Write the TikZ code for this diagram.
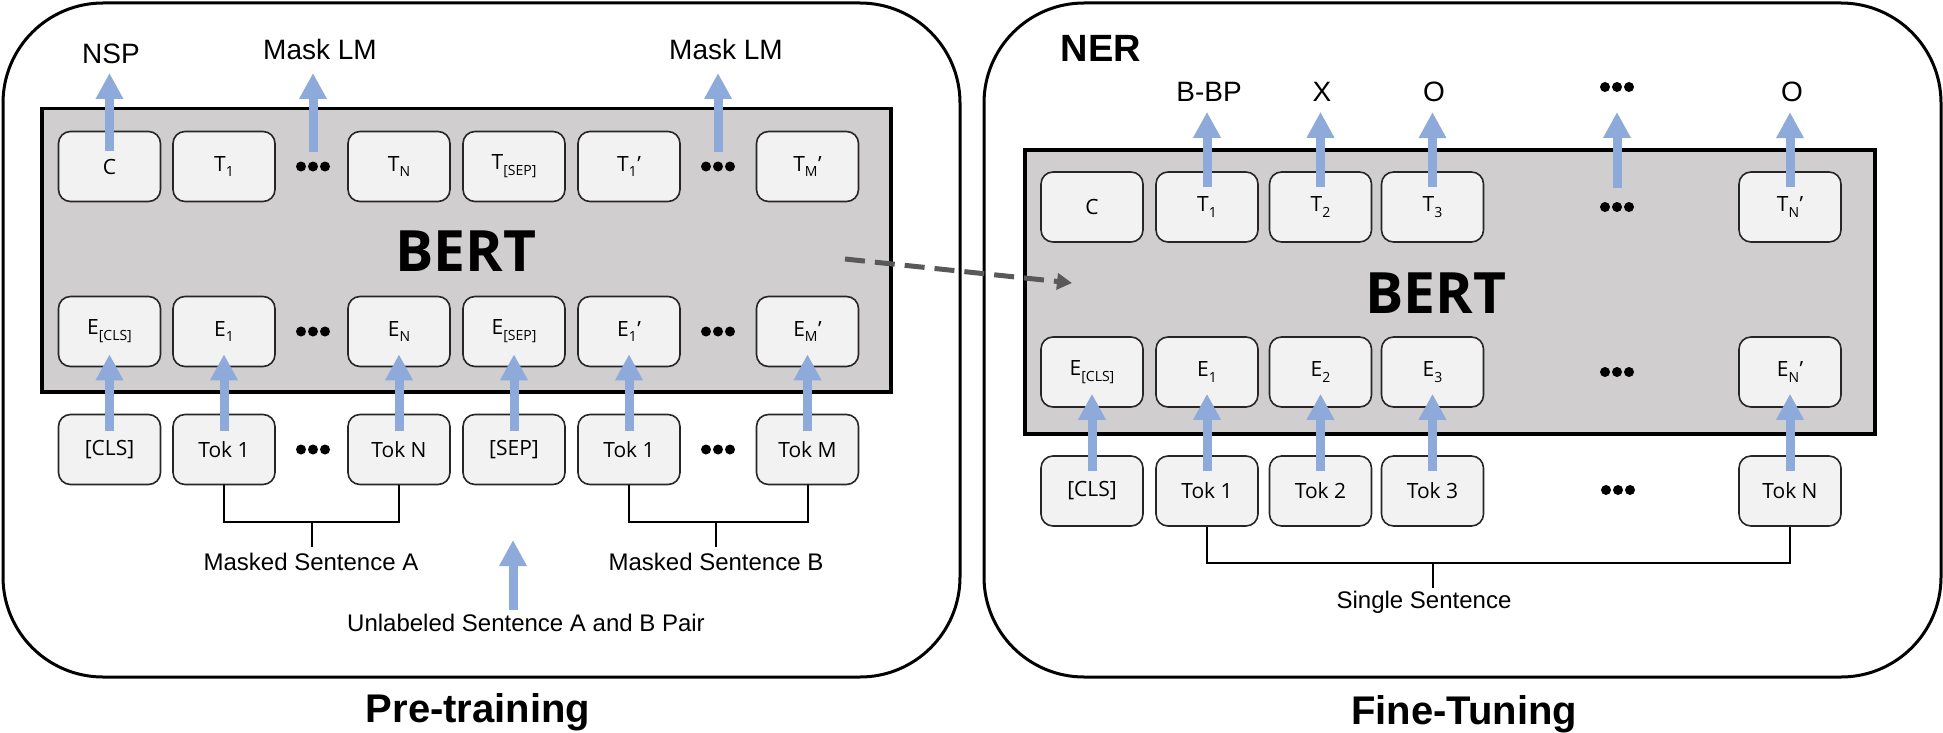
\documentclass[tikz,border=0pt]{standalone}
\usepackage{fontspec}
\setmainfont{Liberation Sans}
\newfontfamily\boxfont{Open Sans}
\usetikzlibrary{arrows.meta,calc}
\definecolor{arrowblue}{RGB}{142,170,219}
\definecolor{boxfill}{RGB}{242,242,242}
\definecolor{bertgray}{RGB}{208,206,206}
\definecolor{dashgray}{RGB}{89,89,89}
\newcommand\sbs[1]{\raisebox{-0.28em}{\fontsize{14}{14}\selectfont #1}}
\newcommand\pr{\kern0.5pt’}
\begin{document}
\begin{tikzpicture}[x=1pt,y=-1pt,
  tokbox/.style={draw=black!85, line width=1.6pt, fill=boxfill, rounded corners=12pt,
    minimum width=102pt, minimum height=70pt, inner sep=0pt,
    font=\boxfont\fontsize{21}{24}\selectfont},
  panel/.style={draw=black, line width=3pt, rounded corners=100pt},
  bertbox/.style={draw=black, line width=3.5pt, fill=bertgray, inner sep=0pt},
  up/.style={draw=arrowblue, line width=9pt, -{Triangle[width=26pt,length=26pt]}},
  lbl/.style={font=\fontsize{28}{32}\selectfont, inner sep=0pt},
  sublbl/.style={font=\fontsize{24}{28}\selectfont, inner sep=0pt},
  ttl/.style={font=\bfseries\fontsize{40}{44}\selectfont, inner sep=0pt},
  bert/.style={font=\boxfont\bfseries\fontsize{57}{60}\selectfont, inner sep=0pt},
  brk/.style={draw=black, line width=2pt},
  dasharrow/.style={draw=dashgray, line width=5pt, dash pattern=on 20pt off 10pt,
    -{Triangle[width=16pt,length=15pt]}},
  dotdot/.pic={\fill (-12,0) circle (5pt) (0,0) circle (5pt) (12,0) circle (5pt);}
]
\useasboundingbox (0,0) rectangle (1943,733);

% panels
\draw[panel] (3,3) rectangle (960,677);
\draw[panel] (984,3) rectangle (1941,677);

% BERT boxes
\node[bertbox, minimum width=849pt, minimum height=283pt, anchor=north west] (bertL) at (40,107) {};
\node[bertbox, minimum width=850pt, minimum height=284pt, anchor=north west] (bertR) at (1023,148) {};
\node[bert] (bertLt) at (466,251) {BERT};
\node[bert] (bertRt) at (1436,293) {BERT};

% ---------- left panel boxes ----------
\node[tokbox] (lt0) at (109.5,166.5) {C};
\node[tokbox] (lt1) at (224,166.5) {T\sbs{1}};
\node[tokbox] (ltN) at (399,166.5) {T\sbs{N}};
\node[tokbox] (ltS) at (514,166.5) {T\sbs{[SEP]}};
\node[tokbox] (ltB1) at (629,166.5) {T\sbs{1}\pr};
\node[tokbox] (ltM) at (807.5,166.5) {T\sbs{M}\pr};

\node[tokbox] (le0) at (109.5,331.5) {E\sbs{[CLS]}};
\node[tokbox] (le1) at (224,331.5) {E\sbs{1}};
\node[tokbox] (leN) at (399,331.5) {E\sbs{N}};
\node[tokbox] (leS) at (514,331.5) {E\sbs{[SEP]}};
\node[tokbox] (leB1) at (629,331.5) {E\sbs{1}\pr};
\node[tokbox] (leM) at (807.5,331.5) {E\sbs{M}\pr};

\node[tokbox] (lk0) at (109.5,449.5) {[CLS]};
\node[tokbox] (lk1) at (224,449.5) {Tok 1};
\node[tokbox] (lkN) at (399,449.5) {Tok N};
\node[tokbox] (lkS) at (514,449.5) {[SEP]};
\node[tokbox] (lkB1) at (629,449.5) {Tok 1};
\node[tokbox] (lkM) at (807.5,449.5) {Tok M};

\pic at (313,166.5) {dotdot};
\pic at (313,331.5) {dotdot};
\pic at (313,449.5) {dotdot};
\pic at (718,166.5) {dotdot};
\pic at (718,331.5) {dotdot};
\pic at (718,449.5) {dotdot};

% left labels
\node[lbl] (nsp) at (111,54) {NSP};
\node[lbl] (mlm1) at (320,49) {Mask LM};
\node[lbl] (mlm2) at (726,49) {Mask LM};
\coordinate (mlm1s) at (313,152);
\coordinate (mlm2s) at (718,152);
\coordinate (mlm1t) at (313,73);
\coordinate (mlm2t) at (718,73);
\coordinate (nspt) at (109.5,73);

\draw[up] ([yshift=-20pt]lt0.north) -- (nspt);
\draw[up] (mlm1s) -- (mlm1t);
\draw[up] (mlm2s) -- (mlm2t);

\foreach \a/\b in {lk0/le0,lk1/le1,lkN/leN,lkS/leS,lkB1/leB1,lkM/leM}
  \draw[up] ([yshift=-17pt]\a.north) -- ([yshift=13pt]\b.south);

% brackets left
\draw[brk] (lk1.south) -- ++(0,37) -| (lkN.south);
\draw[brk] (lkB1.south) -- ++(0,37) -| (lkM.south);
\coordinate (tA) at (312,521);
\coordinate (tAe) at (312,547);
\coordinate (tB) at (716,521);
\coordinate (tBe) at (716,547);
\draw[brk] (tA) -- (tAe);
\draw[brk] (tB) -- (tBe);
\node[sublbl] (msA) at (311,562) {Masked Sentence A};
\node[sublbl] (msB) at (716,562) {Masked Sentence B};
\node[sublbl] (unl) at (526,623) {Unlabeled Sentence A and B Pair};
\coordinate (ua) at (513,610);
\coordinate (ub) at (513,540);
\draw[up] (ua) -- (ub);
\node[ttl] (pre) at (478,712) {Pre-training};

% ---------- right panel boxes ----------
\node[tokbox] (rt0) at (1092,207) {C};
\node[tokbox] (rt1) at (1207,207) {T\sbs{1}};
\node[tokbox] (rt2) at (1320.5,207) {T\sbs{2}};
\node[tokbox] (rt3) at (1432.5,207) {T\sbs{3}};
\node[tokbox] (rtN) at (1790,207) {T\sbs{N}\pr};

\node[tokbox] (re0) at (1092,372) {E\sbs{[CLS]}};
\node[tokbox] (re1) at (1207,372) {E\sbs{1}};
\node[tokbox] (re2) at (1320.5,372) {E\sbs{2}};
\node[tokbox] (re3) at (1432.5,372) {E\sbs{3}};
\node[tokbox] (reN) at (1790,372) {E\sbs{N}\pr};

\node[tokbox] (rk0) at (1092,491) {[CLS]};
\node[tokbox] (rk1) at (1207,491) {Tok 1};
\node[tokbox] (rk2) at (1320.5,491) {Tok 2};
\node[tokbox] (rk3) at (1432.5,491) {Tok 3};
\node[tokbox] (rkN) at (1790,491) {Tok N};

\pic at (1617,87) {dotdot};
\pic at (1617,207) {dotdot};
\pic at (1617,372) {dotdot};
\pic at (1618,490) {dotdot};

\node[ttl, font=\bfseries\fontsize{38}{40}\selectfont] (ner) at (1101,48) {NER};
\node[lbl] (lb1) at (1209,92) {B-BP};
\node[lbl] (lb2) at (1322,92) {X};
\node[lbl] (lb3) at (1434,92) {O};
\node[lbl] (lbN) at (1792,92) {O};
\coordinate (rds) at (1617,188);
\coordinate (rdt) at (1617,112);

\draw[up] ([yshift=-16pt]rt1.north) -- ([yshift=-10pt]lb1.south -| rt1.north);
\draw[up] ([yshift=-16pt]rt2.north) -- ([yshift=-10pt]lb2.south -| rt2.north);
\draw[up] ([yshift=-16pt]rt3.north) -- ([yshift=-10pt]lb3.south -| rt3.north);
\draw[up] (rds) -- (rdt);
\draw[up] ([yshift=-16pt]rtN.north) -- ([yshift=-10pt]lbN.south -| rtN.north);

\foreach \a/\b in {rk0/re0,rk1/re1,rk2/re2,rk3/re3,rkN/reN}
  \draw[up] ([yshift=-16pt]\a.north) -- ([yshift=14pt]\b.south);

\draw[brk] (rk1.south) -- ++(0,36) -| (rkN.south);
\coordinate (tS) at (1433,562);
\coordinate (tSe) at (1433,588);
\draw[brk] (tS) -- (tSe);
\node[sublbl] (single) at (1424,602) {Single Sentence};
\node[ttl] (fine) at (1464,714) {Fine-Tuning};

% dashed transfer arrow
\coordinate (da) at (845,259);
\coordinate (db) at (1072,283);
\draw[dasharrow] (da) -- (db);
\end{tikzpicture}
\end{document}
